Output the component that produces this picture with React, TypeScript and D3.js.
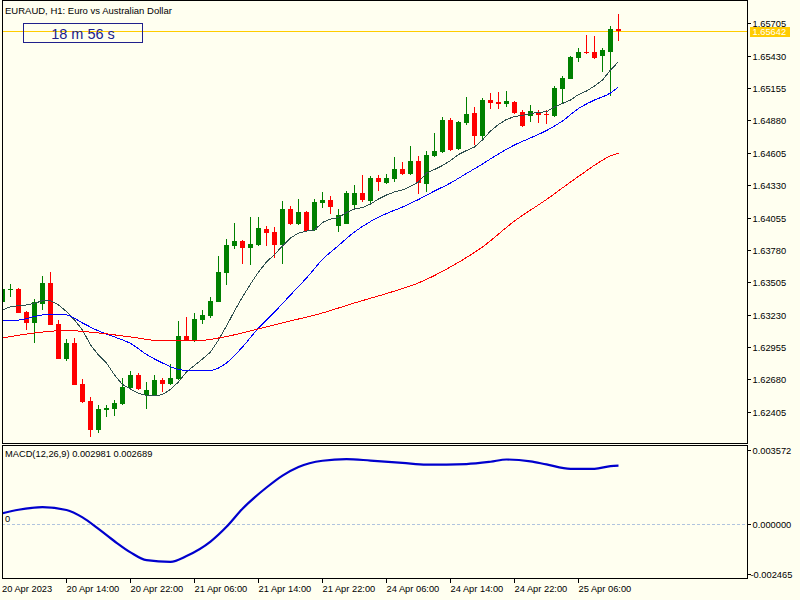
import { useRef, useEffect } from "react";
import * as d3 from "d3";

// EURAUD H1 candles, 20 Apr 06:00 .. 25 Apr 11:00
const opens = [
  1.6334, 1.63443, 1.63448, 1.63252, 1.63161, 1.63323, 1.63501, 1.6315, 1.62856, 1.62989,
  1.62641, 1.62496, 1.6225, 1.62417, 1.62428, 1.62471, 1.62607, 1.62717, 1.62547, 1.62547,
  1.62675, 1.62641, 1.62683, 1.63048, 1.63014, 1.63184, 1.63218, 1.6334, 1.63586, 1.63816,
  1.63856, 1.63799, 1.63822, 1.63957, 1.63932, 1.63822, 1.64127, 1.64, 1.64102, 1.63949,
  1.64181, 1.64204, 1.63983, 1.64, 1.64161, 1.64263, 1.64195, 1.64391, 1.64348, 1.64382,
  1.64467, 1.64425, 1.64535, 1.64342, 1.64578, 1.64612, 1.64883, 1.64637, 1.64858, 1.64943,
  1.64748, 1.65053, 1.65036, 1.65019, 1.65036, 1.64951, 1.6492, 1.64951, 1.64937, 1.64918,
  1.65147, 1.65234, 1.65413, 1.65461, 1.65461, 1.65427, 1.65461, 1.65657,
];
const highs = [
  1.63465, 1.6349, 1.63456, 1.63261, 1.63363, 1.63561, 1.63595, 1.63184, 1.63023, 1.63031,
  1.62683, 1.62533, 1.62462, 1.62462, 1.62502, 1.62689, 1.62751, 1.62731, 1.62658, 1.62717,
  1.62692, 1.62811, 1.63176, 1.6321, 1.63244, 1.63272, 1.63377, 1.63728, 1.63873, 1.64011,
  1.63864, 1.64062, 1.64059, 1.63983, 1.63974, 1.64195, 1.64153, 1.64212, 1.6411, 1.64212,
  1.64272, 1.64238, 1.64127, 1.64278, 1.64331, 1.64416, 1.64408, 1.64416, 1.64425, 1.64569,
  1.64527, 1.64663, 1.64578, 1.6462, 1.64773, 1.64909, 1.649, 1.64875, 1.65079, 1.64994,
  1.6507, 1.65113, 1.65121, 1.6513, 1.65045, 1.64968, 1.65014, 1.64971, 1.64971, 1.65175,
  1.65257, 1.65427, 1.65495, 1.65606, 1.65597, 1.65495, 1.65682, 1.65784,
];
const lows = [
  1.63329, 1.63377, 1.6324, 1.63099, 1.62986, 1.63269, 1.63138, 1.62849, 1.62839, 1.62628,
  1.62483, 1.62193, 1.62227, 1.62363, 1.62371, 1.62462, 1.62587, 1.6259, 1.62431, 1.62539,
  1.62573, 1.62635, 1.62675, 1.63006, 1.63, 1.6315, 1.63201, 1.63333, 1.63482, 1.6379,
  1.6366, 1.63652, 1.63813, 1.63813, 1.63714, 1.6366, 1.63991, 1.63991, 1.63932, 1.6394,
  1.64136, 1.64085, 1.63932, 1.63997, 1.64119, 1.64187, 1.6417, 1.6428, 1.6434, 1.64357,
  1.64416, 1.64416, 1.64255, 1.64272, 1.64569, 1.64603, 1.6462, 1.64629, 1.64841, 1.64671,
  1.64714, 1.64977, 1.64977, 1.64994, 1.64937, 1.64828, 1.64869, 1.64858, 1.64852, 1.64913,
  1.65019, 1.65228, 1.65374, 1.65444, 1.65402, 1.65294, 1.6509, 1.65555,
];
const closes = [
  1.63445, 1.63448, 1.63246, 1.63161, 1.63335, 1.63501, 1.63144, 1.62856, 1.62989, 1.62635,
  1.6249, 1.6225, 1.62428, 1.62439, 1.62479, 1.62615, 1.62717, 1.62598, 1.6259, 1.62675,
  1.62643, 1.62692, 1.63048, 1.63014, 1.63193, 1.63227, 1.63346, 1.63592, 1.63822, 1.63856,
  1.63799, 1.6383, 1.63966, 1.63923, 1.63822, 1.64127, 1.64, 1.64102, 1.6394, 1.64187,
  1.64204, 1.64144, 1.64076, 1.64263, 1.64263, 1.64204, 1.64391, 1.64357, 1.64391, 1.64467,
  1.64425, 1.64535, 1.64348, 1.64586, 1.6462, 1.64883, 1.64629, 1.64866, 1.64937, 1.64748,
  1.65053, 1.65028, 1.65019, 1.65045, 1.64946, 1.64835, 1.6496, 1.64926, 1.64926, 1.65155,
  1.6524, 1.65419, 1.65461, 1.6545, 1.6541, 1.65478, 1.65657, 1.65642,
];

// moving averages
const maFast = [
  1.63269, 1.63297, 1.63306, 1.63312, 1.63326, 1.63348, 1.63348, 1.63312, 1.63255, 1.63184,
  1.63099, 1.62972, 1.62887, 1.62819, 1.62717, 1.62636, 1.62598, 1.6256, 1.62543, 1.62539,
  1.62551, 1.62594, 1.62658, 1.62743, 1.62798, 1.62853, 1.62912, 1.63014, 1.63133, 1.63261,
  1.6338, 1.6349, 1.63592, 1.63677, 1.63741, 1.63813, 1.63881, 1.63923, 1.6394, 1.63949,
  1.64013, 1.64042, 1.64055, 1.64098, 1.64127, 1.6414, 1.6417, 1.64212, 1.64246, 1.64272,
  1.64289, 1.64319, 1.64357, 1.64433, 1.64463, 1.64497, 1.64539, 1.6459, 1.64624, 1.64654,
  1.64714, 1.6479, 1.64845, 1.64888, 1.64913, 1.64922, 1.6494, 1.64947, 1.64954, 1.64994,
  1.65024, 1.65053, 1.651, 1.6513, 1.65172, 1.65223, 1.65308, 1.65379,
];
const maMidBars = [
  0, 2, 4, 6, 8, 10, 12, 14, 16, 18, 20, 22, 24, 26, 28, 30, 32, 34, 36, 38,
  40, 42, 44, 46, 48, 50, 52, 54, 56, 58, 60, 62, 64, 66, 68, 70, 72, 74, 76, 77,
];
const maMid = [
  1.63184, 1.63184, 1.63214, 1.63235, 1.63227, 1.63159, 1.63091, 1.6304, 1.62985, 1.62891,
  1.62819, 1.62764, 1.62751, 1.62755, 1.62819, 1.62955, 1.63116, 1.63252, 1.63397, 1.63541,
  1.63698, 1.63817, 1.63932, 1.64021, 1.64089, 1.64144, 1.64208, 1.6428, 1.64348, 1.64429,
  1.6451, 1.64595, 1.64671, 1.64731, 1.64794, 1.64875, 1.64981, 1.65053, 1.65113, 1.65166,
];
const maSlowBars = [0, 4, 8, 12, 16, 20, 24, 28, 32, 36, 40, 44, 48, 52, 56, 60, 64, 68, 72, 76, 77];
const maSlow = [
  1.63031, 1.63074, 1.63095, 1.63074, 1.6304, 1.63006, 1.63006, 1.63044, 1.63108, 1.63176,
  1.63244, 1.63329, 1.63409, 1.63499, 1.63635, 1.63805, 1.64025, 1.64208, 1.64404, 1.64578,
  1.64603,
];

const macdBars = [
  0, 2, 5, 8, 10, 12, 14, 16, 18, 21, 23, 26, 28, 30, 33, 35, 37, 40, 43, 46,
  50, 53, 58, 61, 63, 66, 68, 71, 74, 76, 77,
];
const macdValues = [
  0.0005, 0.00067, 0.0008, 0.00066, 0.0003, -0.00026, -0.00086, -0.0014, -0.00178, -0.00186,
  -0.00158, -0.00088, -0.00016, 0.00072, 0.00175, 0.00233, 0.00275, 0.00305, 0.00313, 0.00306,
  0.00295, 0.00286, 0.00289, 0.003, 0.00311, 0.00302, 0.00287, 0.00266, 0.00266, 0.00279,
  0.00281,
];

const priceTicks = [
  1.65705, 1.6543, 1.65155, 1.6488, 1.64605, 1.6433, 1.64055, 1.6378, 1.63505, 1.6323,
  1.62955, 1.6268, 1.62405,
];
const macdTicks = [0.003572, 0, -0.002465];
const timeTickBars = [0, 8, 16, 24, 32, 40, 48, 56, 64, 72];
const timeLabels = [
  "20 Apr 2023", "20 Apr 14:00", "20 Apr 22:00", "21 Apr 06:00", "21 Apr 14:00",
  "21 Apr 22:00", "24 Apr 06:00", "24 Apr 14:00", "24 Apr 22:00", "25 Apr 06:00",
];

interface CandleChartProps {
  width?: number;
  height?: number;
}

export const CandleChart = ({ width = 800, height = 600 }: CandleChartProps) => {
  const svgRef = useRef(null);

  const plotLeft = 2;
  const plotRight = 747;
  const mainBottom = 443;
  const macdTop = 445;
  const macdBottom = 578;
  const font = "'Liberation Sans', Arial, sans-serif";

  const drawChart = () => {
    const svg = d3.select(svgRef.current);
    svg.selectAll("*").remove();

    const x = d3.scaleLinear().domain([0, 77]).range([2.5, 2.5 + 77 * 8]);
    const y = d3.scaleLinear().domain([1.62405, 1.65705]).range([411.7, 23.3]);
    const ym = d3.scaleLinear().domain([-0.002465, 0.003572]).range([574.3, 450]);

    svg.append("rect").attr("width", width).attr("height", height).attr("fill", "#fffff0");

    svg
      .append("clipPath")
      .attr("id", "main-clip")
      .append("rect")
      .attr("x", plotLeft + 1)
      .attr("y", 1)
      .attr("width", plotRight - plotLeft - 1)
      .attr("height", mainBottom - 1);
    svg
      .append("clipPath")
      .attr("id", "macd-clip")
      .append("rect")
      .attr("x", plotLeft + 1)
      .attr("y", macdTop + 1)
      .attr("width", plotRight - plotLeft - 1)
      .attr("height", macdBottom - macdTop - 1);

    const main = svg.append("g").attr("clip-path", "url(#main-clip)").attr("shape-rendering", "crispEdges");

    // bid line
    const last = closes[closes.length - 1];
    const by = Math.round(y(last));
    main
      .append("rect")
      .attr("x", plotLeft)
      .attr("width", plotRight - plotLeft)
      .attr("y", by)
      .attr("height", 1)
      .attr("fill", "#ffcc00");

    const candles = main
      .selectAll("g.candle")
      .data(opens.map((o, i) => ({ i, o, h: highs[i], l: lows[i], c: closes[i] })))
      .enter()
      .append("g")
      .attr("fill", (d) => (d.c >= d.o ? "#008000" : "#ff0000"));

    candles
      .append("rect")
      .attr("x", (d) => x(d.i) - 0.5)
      .attr("width", 1)
      .attr("y", (d) => y(d.h))
      .attr("height", (d) => y(d.l) - y(d.h));

    candles
      .append("rect")
      .attr("x", (d) => x(d.i) - 2.5)
      .attr("width", 5)
      .attr("y", (d) => y(Math.max(d.o, d.c)))
      .attr("height", (d) => Math.max(1, Math.abs(y(d.o) - y(d.c))));

    const lineFast = d3.line<number>().x((d, i) => x(i)).y((d) => y(d));
    main.append("path").attr("d", lineFast(maFast)).attr("fill", "none").attr("stroke", "#2f4f4f");

    const lineIdx = (bars: number[], scale) =>
      d3
        .line<number>()
        .x((d, i) => x(bars[i]))
        .y((d) => scale(d))
        .curve(d3.curveMonotoneX);

    main.append("path").attr("d", lineIdx(maMidBars, y)(maMid)).attr("fill", "none").attr("stroke", "#0000ff");
    main.append("path").attr("d", lineIdx(maSlowBars, y)(maSlow)).attr("fill", "none").attr("stroke", "#ff0000");

    const macd = svg.append("g").attr("clip-path", "url(#macd-clip)");
    macd
      .append("line")
      .attr("x1", plotLeft)
      .attr("x2", plotRight)
      .attr("y1", Math.round(ym(0)) + 0.5)
      .attr("y2", Math.round(ym(0)) + 0.5)
      .attr("stroke", "#b0c4de")
      .attr("stroke-dasharray", "3,2")
      .attr("shape-rendering", "crispEdges");
    macd
      .append("path")
      .attr("d", lineIdx(macdBars, ym)(macdValues))
      .attr("fill", "none")
      .attr("stroke", "#0000cd")
      .attr("stroke-width", 2.2);

    // frames
    const frame = svg.append("g").attr("stroke", "#000").attr("fill", "none").attr("shape-rendering", "crispEdges");
    frame.append("rect").attr("x", plotLeft + 0.5).attr("y", 0.5).attr("width", plotRight - plotLeft).attr("height", mainBottom);
    frame
      .append("rect")
      .attr("x", plotLeft + 0.5)
      .attr("y", macdTop + 0.5)
      .attr("width", plotRight - plotLeft)
      .attr("height", macdBottom - macdTop);

    // price axis
    const priceAxis = svg.append("g").attr("font-family", font).attr("font-size", 9.3);
    priceTicks.forEach((p) => {
      const ty = Math.round(y(p)) + 0.5;
      priceAxis
        .append("line")
        .attr("x1", plotRight)
        .attr("x2", plotRight + 4)
        .attr("y1", ty)
        .attr("y2", ty)
        .attr("stroke", "#000")
        .attr("shape-rendering", "crispEdges");
      priceAxis.append("text").attr("x", plotRight + 5.5).attr("y", ty + 3.4).text(p.toFixed(5));
    });

    priceAxis
      .append("rect")
      .attr("x", plotRight + 3)
      .attr("y", by - 4)
      .attr("width", 40)
      .attr("height", 10)
      .attr("fill", "#ffcc00")
      .attr("shape-rendering", "crispEdges");
    priceAxis.append("text").attr("x", plotRight + 5.5).attr("y", by + 4.4).attr("fill", "#fff").text(last.toFixed(5));

    macdTicks.forEach((v) => {
      const ty = Math.round(ym(v)) + 0.5;
      priceAxis
        .append("line")
        .attr("x1", plotRight)
        .attr("x2", plotRight + 4)
        .attr("y1", ty)
        .attr("y2", ty)
        .attr("stroke", "#000")
        .attr("shape-rendering", "crispEdges");
      priceAxis.append("text").attr("x", v < 0 ? plotRight + 3.5 : plotRight + 5.5).attr("y", ty + 3.4).text(v.toFixed(6));
    });

    // time axis
    const timeAxis = svg.append("g").attr("font-family", font).attr("font-size", 9.3);
    timeTickBars.forEach((b, i) => {
      if (i > 0) {
        timeAxis
          .append("line")
          .attr("x1", x(b))
          .attr("x2", x(b))
          .attr("y1", macdBottom)
          .attr("y2", macdBottom + 5)
          .attr("stroke", "#000")
          .attr("shape-rendering", "crispEdges");
      }
      timeAxis.append("text").attr("x", i === 0 ? plotLeft : x(b)).attr("y", 592).text(timeLabels[i]);
    });

    // labels
    const labels = svg.append("g").attr("font-family", font);
    labels.append("text").attr("x", 5).attr("y", 13.5).attr("font-size", 9.5).text("EURAUD, H1:  Euro vs Australian Dollar");
    labels.append("text").attr("x", 5).attr("y", 457).attr("font-size", 9.3).text("MACD(12,26,9) 0.002981 0.002689");
    labels.append("text").attr("x", 5).attr("y", 521.5).attr("font-size", 9.3).text("0");

    labels
      .append("rect")
      .attr("x", 23.5)
      .attr("y", 23.5)
      .attr("width", 119)
      .attr("height", 19)
      .attr("fill", "none")
      .attr("stroke", "#20208c")
      .attr("shape-rendering", "crispEdges");
    labels
      .append("text")
      .attr("x", 83)
      .attr("y", 38.5)
      .attr("text-anchor", "middle")
      .attr("font-size", 14.5)
      .attr("fill", "#20208c")
      .text("18 m 56 s");
  };

  useEffect(() => {
    drawChart();
  }, []);

  return <svg ref={svgRef} width={width} height={height} style={{ position: "absolute", left: 0, top: 0 }} />;
};

export default function App() {
  return <CandleChart />;
}
